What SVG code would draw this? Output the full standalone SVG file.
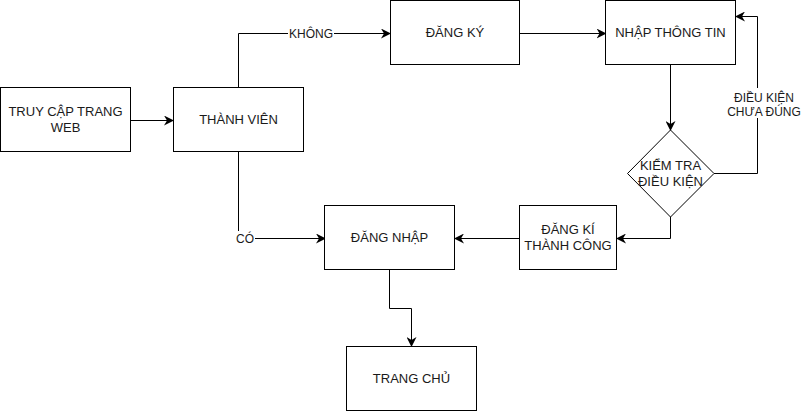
<svg xmlns="http://www.w3.org/2000/svg" width="801" height="412" viewBox="0 0 801 412">
<defs>
<marker id="arr" viewBox="0 0 10 10" refX="9" refY="5" markerWidth="10" markerHeight="10" markerUnits="userSpaceOnUse" orient="auto">
<path d="M0,0 L10,5 L0,10 L3,5 Z" fill="#000"/>
</marker>
</defs>
<style>
.box{fill:#fff;stroke:#000;stroke-width:1}
.t{font-family:"Liberation Sans",Arial,sans-serif;font-size:13px;fill:#1a1a1a;text-anchor:middle}
.c{fill:none;stroke:#000;stroke-width:1;marker-end:url(#arr)}
.lbl{font-family:"Liberation Sans",Arial,sans-serif;font-size:12px;fill:#1a1a1a;text-anchor:middle}
</style>
<rect width="801" height="412" fill="#fff"/>
<g id="connectors">
<path class="c" d="M130.5,120.5 H173"/>
<path class="c" d="M238.5,87 V33.5 H390"/>
<path class="c" d="M238.5,152 V238.5 H325"/>
<path class="c" d="M519.5,33.5 H605.5"/>
<path class="c" d="M670.5,65 V130"/>
<path class="c" d="M714,173.5 H757.5 V16.5 H736"/>
<path class="c" d="M670.5,217 V238.5 H617"/>
<path class="c" d="M519.5,238.5 H455"/>
<path class="c" d="M389.5,270 V308.5 H411.5 V346"/>
<rect x="288" y="26" width="46" height="14" fill="#fff"/>
<text class="lbl" x="311" y="38">KHÔNG</text>
<rect x="235" y="231" width="20" height="14" fill="#fff"/>
<text class="lbl" x="245" y="243">CÓ</text>
<rect x="727" y="88" width="74" height="30" fill="#fff"/>
<text class="lbl" x="764" y="102">ĐIỀU KIỆN</text>
<text class="lbl" x="764" y="116">CHƯA ĐÚNG</text>
</g>
<g id="truy-cap">
<rect class="box" x="0.5" y="87.5" width="130" height="64"/>
<text class="t" x="65.5" y="116">TRUY CẬP TRANG</text>
<text class="t" x="65.5" y="132">WEB</text>
</g>
<g id="thanh-vien">
<rect class="box" x="173.5" y="87.5" width="130" height="64"/>
<text class="t" x="238.5" y="123.5">THÀNH VIÊN</text>
</g>
<g id="dang-ky">
<rect class="box" x="390.5" y="0.5" width="129" height="64"/>
<text class="t" x="455" y="37">ĐĂNG KÝ</text>
</g>
<g id="nhap-thong-tin">
<rect class="box" x="605.5" y="0.5" width="130" height="64"/>
<text class="t" x="670.5" y="37">NHẬP THÔNG TIN</text>
</g>
<g id="kiem-tra">
<polygon class="box" points="670.5,130 714,173.5 670.5,217 627.5,173.5"/>
<text class="t" x="670.5" y="170">KIỂM TRA</text>
<text class="t" x="670.5" y="186">ĐIỀU KIỆN</text>
</g>
<g id="dang-ki-thanh-cong">
<rect class="box" x="519.5" y="205.5" width="97" height="64"/>
<text class="t" x="568" y="234">ĐĂNG KÍ</text>
<text class="t" x="568" y="250">THÀNH CÔNG</text>
</g>
<g id="dang-nhap">
<rect class="box" x="324.5" y="205.5" width="130" height="64"/>
<text class="t" x="389.5" y="242">ĐĂNG NHẬP</text>
</g>
<g id="trang-chu">
<rect class="box" x="346.5" y="346.5" width="130" height="64"/>
<text class="t" x="411.5" y="383">TRANG CHỦ</text>
</g>
</svg>
